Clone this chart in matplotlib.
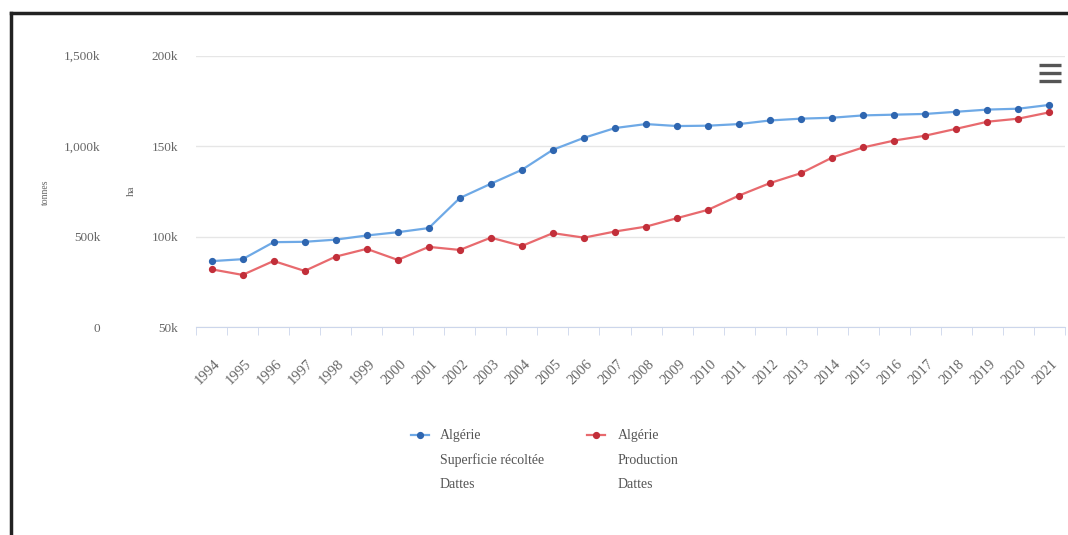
import matplotlib
matplotlib.use("Agg")
import matplotlib.pyplot as plt
import matplotlib.transforms as mtransforms
from matplotlib.lines import Line2D
from matplotlib.ticker import FuncFormatter

# Dattes en Algérie : superficie récoltée (ha) et production (tonnes)
annees = list(range(1994, 2022))
superficie_ha = [86.4, 87.5, 96.9, 97.1, 98.3, 100.6, 102.4, 104.7, 121.3, 129.2,
                 136.9, 148.0, 154.6, 160.0, 162.2, 161.1, 161.3, 162.2, 164.2, 165.2,
                 165.7, 167.0, 167.4, 167.8, 169.0, 170.2, 170.7, 172.8]  # milliers d'ha
production_t = [319, 288, 365, 310, 389, 432, 371, 443, 426, 494,
                448, 519, 494, 528, 555, 602, 648, 727, 796, 851,
                937, 993, 1031, 1058, 1096, 1135, 1152, 1187]  # milliers de tonnes

ha_ticks = [50, 100, 150, 200]
t_ticks = [0, 500, 1000, 1500]

police = "Liberation Serif"
gris = "#666666"
bleu_ligne, bleu_point = "#6ea9e6", "#2f66b0"
rouge_ligne, rouge_point = "#e86a6e", "#c22f3a"

W, H = 1068, 535
fig = plt.figure(figsize=(W / 100, H / 100), dpi=100)
fig.patch.set_facecolor("white")

# zone de tracé en pixels
x0, x1, y_top, y_bot = 196, 1065, 55.7, 327
ax = fig.add_axes([x0 / W, 1 - y_bot / H, (x1 - x0) / W, (y_bot - y_top) / H])
ax_t = ax.twinx()

pos = list(range(len(annees)))
ax.plot(pos, superficie_ha, color=bleu_ligne, lw=1.6, marker="o", ms=4.2,
        mfc=bleu_point, mec=bleu_point, zorder=3)
ax_t.plot(pos, production_t, color=rouge_ligne, lw=1.6, marker="o", ms=4.2,
          mfc=rouge_point, mec=rouge_point, zorder=3)

ax.set_xlim(-0.5, len(annees) - 0.5)
ax.set_ylim(50, 200)
ax_t.set_ylim(0, 1500)

# axe ha (intérieur)
ax.set_yticks(ha_ticks)
ax.yaxis.set_major_formatter(FuncFormatter(lambda v, p: f"{int(v)}k"))
ax.tick_params(axis="y", length=0, pad=13, labelsize=9.5, labelcolor=gris)
ax.grid(axis="y", color="#e6e6e6", lw=1)

# axe tonnes (extérieur, lui aussi à gauche)
ax_t.yaxis.tick_left()
ax_t.set_yticks(t_ticks)
ax_t.yaxis.set_major_formatter(
    FuncFormatter(lambda v, p: "0" if v == 0 else f"{int(v):,}k"))
ax_t.tick_params(axis="y", length=0, pad=69, labelsize=9.5, labelcolor=gris)
ax_t.tick_params(axis="y", which="both", right=False, labelright=False)

for a in (ax, ax_t):
    for s in a.spines.values():
        s.set_visible(False)
ax.spines["bottom"].set_visible(True)
ax.spines["bottom"].set_color("#ccd6eb")

# graduations entre les catégories, étiquettes inclinées
ax.set_xticks([p - 0.5 for p in pos] + [len(annees) - 0.5], minor=True)
ax.set_xticks(pos)
ax.set_xticklabels([str(a) for a in annees], rotation=45, ha="right", va="top",
                   fontsize=10.5, color=gris, family=police)
ax.tick_params(axis="x", which="major", length=0, pad=22)
ax.tick_params(axis="x", which="minor", length=6, color="#ccd6eb")
decal = mtransforms.ScaledTranslation(11 / 100, 0, fig.dpi_scale_trans)
for lab in ax.get_xticklabels():
    lab.set_transform(lab.get_transform() + decal)

for lab in ax.get_yticklabels() + ax_t.get_yticklabels():
    lab.set_family(police)

# titres des axes
fig.text(45 / W, 1 - 192 / H, "tonnes", rotation=90, ha="center", va="center",
         fontsize=7, color=gris, family=police)
fig.text(131 / W, 1 - 191 / H, "ha", rotation=90, ha="center", va="center",
         fontsize=8, color=gris, family=police)

# légende
def element_legende(xm, xt, couleur_l, couleur_p, lignes):
    y = 1 - 435 / H
    fig.add_artist(Line2D([(xm - 9) / W, (xm + 9) / W], [y, y], color=couleur_l, lw=1.6))
    fig.add_artist(Line2D([xm / W], [y], marker="o", ms=4.2, color=couleur_p))
    for i, t in enumerate(lignes):
        fig.text(xt / W, 1 - (435 + 25 * i) / H, t, ha="left", va="center",
                 fontsize=10, color="#555555", family=police)

element_legende(420, 440, bleu_ligne, bleu_point,
                ["Algérie", "Superficie récoltée", "Dattes"])
element_legende(596, 618, rouge_ligne, rouge_point,
                ["Algérie", "Production", "Dattes"])

# icône de menu
for yb in (65, 73, 81):
    fig.add_artist(Line2D([1039 / W, 1061 / W], [1 - yb / H] * 2,
                          color="#555555", lw=2.4, solid_capstyle="butt"))

# cadre sombre en haut et à gauche
fig.add_artist(Line2D([11 / W, 1], [1 - 13 / H] * 2, color="#222222", lw=2.5))
fig.add_artist(Line2D([11 / W] * 2, [0, 1 - 13 / H], color="#222222", lw=2.5))

fig.savefig("out.png", dpi=100, facecolor="white")
